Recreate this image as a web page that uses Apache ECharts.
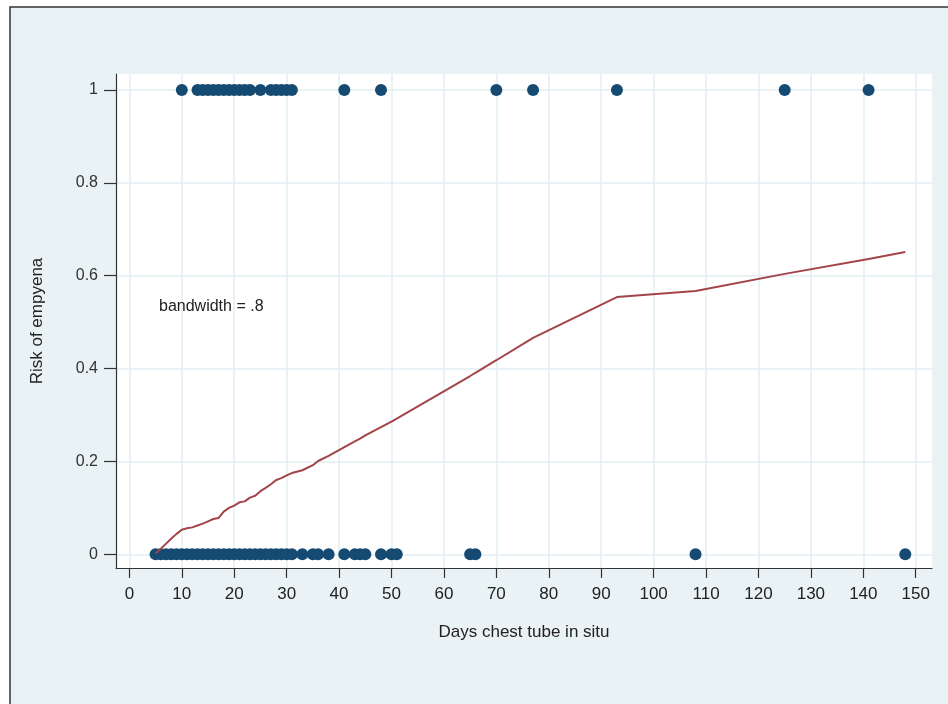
<!DOCTYPE html>
<html>
<head>
<meta charset="utf-8">
<script src="https://cdn.jsdelivr.net/npm/echarts@6/dist/echarts.min.js"></script>
<style>
  html, body { margin: 0; padding: 0; background: #ffffff; }
  #chart { width: 948px; height: 704px; }
</style>
</head>
<body>
<div id="chart"></div>
<script>
// Days chest tube in situ for patients who developed empyema (risk = 1)
const daysEmpyema = [10, 13, 14, 15, 16, 17, 18, 19, 20, 21, 22, 23, 25, 27, 28, 29, 30, 31, 41, 48, 70, 77, 93, 125, 141];
// Days chest tube in situ for patients without empyema (risk = 0)
const daysNoEmpyema = [5, 6, 7, 8, 9, 10, 11, 12, 13, 14, 15, 16, 17, 18, 19, 20, 21, 22, 23, 24, 25, 26, 27, 28, 29, 30, 31,
  33, 35, 36, 38, 41, 43, 44, 45, 48, 50, 51, 65, 66, 108, 148];
// Lowess smooth (bandwidth = .8)
const lowessDays = [5, 6, 7, 8, 9, 10, 11, 12, 13, 14, 15, 16, 17, 18, 19, 20, 21, 22, 23, 24, 25, 26, 27, 28, 29, 30, 31,
  33, 35, 36, 38, 41, 43, 44, 45, 48, 50, 51, 65, 66, 70, 77, 93, 108, 125, 141, 148];
const lowessRisk = [0.002, 0.012, 0.023, 0.034, 0.044, 0.053, 0.056, 0.058, 0.062, 0.066, 0.071, 0.076, 0.078, 0.092, 0.100, 0.105, 0.112, 0.114, 0.122, 0.126, 0.136, 0.143, 0.151, 0.160, 0.164, 0.170, 0.175,
  0.181, 0.192, 0.201, 0.212, 0.231, 0.243, 0.249, 0.256, 0.274, 0.286, 0.292, 0.384, 0.391, 0.418, 0.466, 0.554, 0.567, 0.604, 0.636, 0.651];
const xTicks = [0, 10, 20, 30, 40, 50, 60, 70, 80, 90, 100, 110, 120, 130, 140, 150];
const yTicks = [0, 0.2, 0.4, 0.6, 0.8, 1];

const chart = echarts.init(document.getElementById('chart'), null, { renderer: 'canvas' });

const gridColor = '#e2eef2';
const axisColor = '#333333';

const option = {
  animation: false,
  backgroundColor: '#ffffff',
  graphic: [{
    type: 'rect',
    z: -10,
    shape: { x: 10, y: 7, width: 960, height: 720 },
    style: { fill: '#e9f2f4', stroke: '#333333', lineWidth: 1.5 },
    silent: true
  }],
  title: {
    text: 'bandwidth = .8',
    left: 154,
    top: 294,
    textStyle: { fontSize: 16, fontWeight: 'normal', color: '#222222', fontFamily: 'Liberation Sans, Arial, sans-serif' }
  },
  grid: {
    left: 116, right: 16, top: 74, bottom: 136,
    show: true, backgroundColor: '#ffffff', borderWidth: 0
  },
  xAxis: {
    type: 'value',
    min: -2.55,
    max: 153.1,
    name: 'Days chest tube in situ',
    nameLocation: 'middle',
    nameGap: 56,
    nameTextStyle: { fontSize: 17, color: '#222222', fontFamily: 'Liberation Sans Narrow, Liberation Sans, Arial, sans-serif' },
    axisLine: { show: true, onZero: false, lineStyle: { color: axisColor, width: 1.2 } },
    axisTick: { show: true, inside: false, length: 10, customValues: xTicks, lineStyle: { color: axisColor, width: 1.2 } },
    axisLabel: { show: true, margin: 18, customValues: xTicks, fontSize: 17, color: '#222222', fontFamily: 'Liberation Sans Narrow, Liberation Sans, Arial, sans-serif', showMinLabel: true, showMaxLabel: true },
    splitLine: { show: true, lineStyle: { color: gridColor, width: 1.5 } }
  },
  yAxis: {
    type: 'value',
    min: -0.0295,
    max: 1.0345,
    name: 'Risk of empyena',
    nameLocation: 'middle',
    nameGap: 70,
    nameTextStyle: { fontSize: 17, color: '#222222', fontFamily: 'Liberation Sans, Arial, sans-serif' },
    axisLine: { show: true, onZero: false, lineStyle: { color: axisColor, width: 1.2 } },
    axisTick: { show: true, inside: false, length: 12, customValues: yTicks, lineStyle: { color: axisColor, width: 1.2 } },
    axisLabel: { show: true, margin: 18, customValues: yTicks, fontSize: 16, color: '#333333', fontFamily: 'Liberation Sans, Arial, sans-serif',
      formatter: function (v) { return String(Math.round(v * 10) / 10); } },
    splitLine: { show: true, lineStyle: { color: gridColor, width: 1.5 } }
  },
  series: [
    {
      name: 'Empyema',
      type: 'scatter',
      symbol: 'circle',
      symbolSize: 12,
      itemStyle: { color: '#154a72', opacity: 1 },
      data: daysEmpyema.map(d => [d, 1]),
      z: 3
    },
    {
      name: 'No empyema',
      type: 'scatter',
      symbol: 'circle',
      symbolSize: 12,
      itemStyle: { color: '#154a72', opacity: 1 },
      data: daysNoEmpyema.map(d => [d, 0]),
      z: 3
    },
    {
      name: 'Lowess',
      type: 'line',
      showSymbol: false,
      symbol: 'none',
      lineStyle: { color: '#a3434a', width: 2 },
      data: lowessDays.map((d, i) => [d, lowessRisk[i]]),
      z: 4
    }
  ]
};
chart.setOption(option);
</script>
</body>
</html>
